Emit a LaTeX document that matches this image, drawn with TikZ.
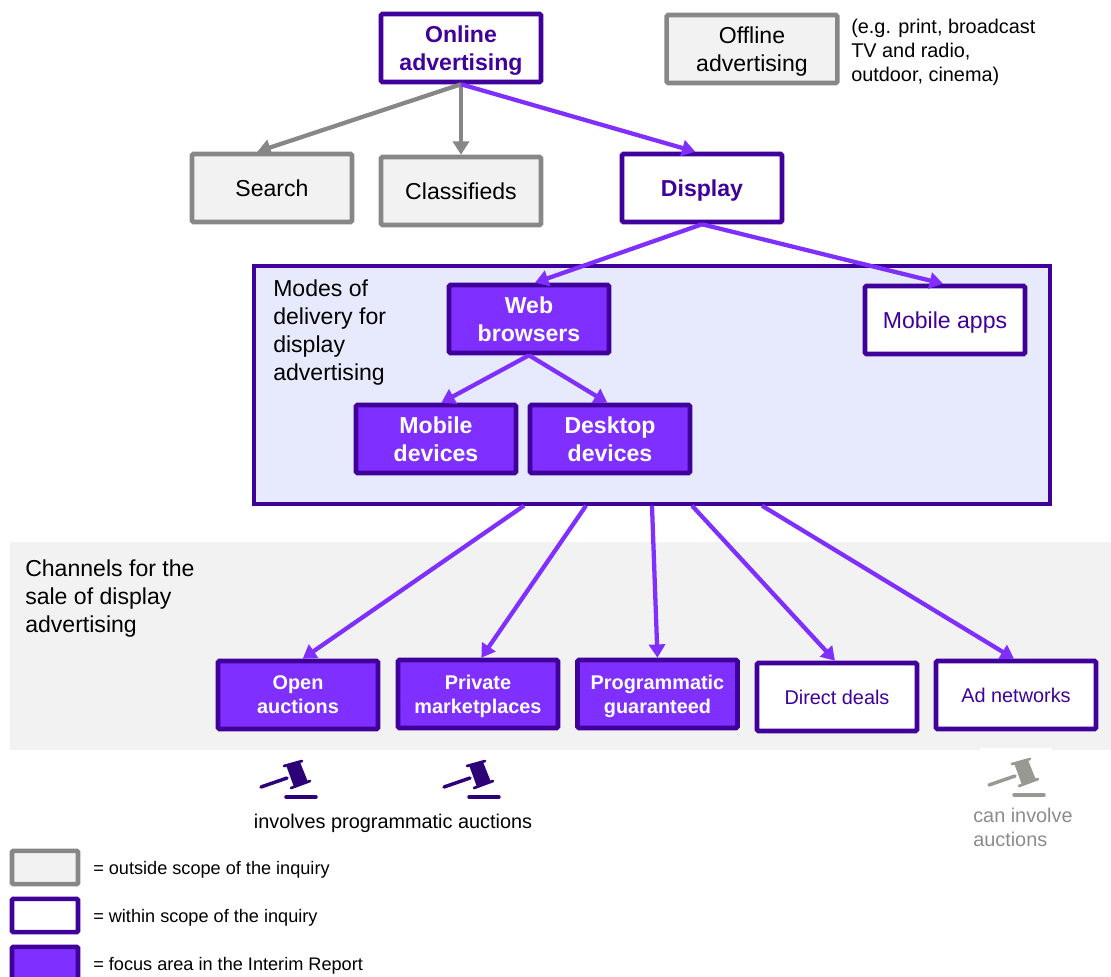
\documentclass[tikz,border=0pt]{standalone}
\usepackage{fontspec}
\setmainfont{Liberation Sans}
\usetikzlibrary{arrows.meta}
\definecolor{darkpurple}{HTML}{40009A}
\definecolor{brightpurple}{HTML}{7F2FFF}
\definecolor{gavelpurple}{HTML}{2E0078}
\definecolor{scopegrey}{HTML}{878787}
\definecolor{bandgrey}{HTML}{F2F2F2}
\definecolor{panelblue}{HTML}{E6EAFC}
\definecolor{gavelgrey}{HTML}{999994}
\definecolor{notegrey}{HTML}{8C8C8C}
\newcommand{\bigtext}{\fontsize{17.3}{21}\selectfont}
\newcommand{\midtext}{\fontsize{14.9}{18}\selectfont}
\newcommand{\smalltext}{\fontsize{13.6}{16}\selectfont}
\tikzset{
  box/.style={draw,line width=3.4pt,rounded corners=1pt,minimum width=120pt,minimum height=51pt,align=center,inner sep=0pt,text depth=0pt},
  outbox/.style={box,draw=scopegrey,fill=bandgrey,text=black,font=\bigtext},
  scopebox/.style={box,draw=darkpurple,fill=white,text=darkpurple,font=\bigtext},
  focusbox/.style={box,draw=darkpurple,fill=brightpurple,text=white,font=\bigtext\bfseries},
  keybox/.style={draw,line width=3.4pt,rounded corners=1pt,minimum width=49.5pt,minimum height=25pt,inner sep=0pt},
  keytext/.style={anchor=west,font=\smalltext,inner sep=0pt},
  note/.style={anchor=west,align=left,inner sep=0pt},
  purplearrow/.style={draw=brightpurple,line width=3.2pt,-{Triangle[length=10pt,width=12pt]}},
  greyarrow/.style={draw=scopegrey,line width=3.2pt,-{Triangle[length=10pt,width=12pt]}},
  pics/gavel/.style={code={
    \draw[#1,line width=2.6pt,line cap=round] (-29,10) -- (-3,1);
    \fill[#1] (-4,-12) -- (10,-15) -- (18,5) -- (4,10) -- cycle;
    \draw[#1,line width=2pt,line cap=round] (-6,-11) -- (12,-16);
    \draw[#1,line width=2pt,line cap=round] (1,11) -- (20,4);
    \draw[#1,line width=2.6pt,line cap=round] (-4,20) -- (26,20);
  }}
}

\begin{document}
\begin{tikzpicture}[x=0.75pt,y=-0.75pt]
\useasboundingbox (0,0) rectangle (1111,976);
\clip (0,0) rectangle (1111,976);

% background areas:
\fill[bandgrey] (10,542) rectangle (1111,750);
\fill[white] (980,748) rectangle (1052,750);
\node[draw=darkpurple,fill=panelblue,line width=3pt,minimum width=597pt,minimum height=178pt,inner sep=0pt] (modes) at (652,385) {};

% boxes:
\node[scopebox,font=\bigtext\bfseries] (online) at (461,48) {Online\\advertising};
\node[outbox,minimum width=128pt] (offline) at (752,49) {Offline\\advertising};
\node[outbox] (search) at (272,188) {Search};
\node[outbox] (classifieds) at (461,191) {Classifieds};
\node[scopebox,font=\bigtext\bfseries] (display) at (702,188) {Display};
\node[focusbox] (web) at (529,319) {Web\\browsers};
\node[scopebox] (apps) at (945,320) {Mobile apps};
\node[focusbox] (mobile) at (436,439) {Mobile\\devices};
\node[focusbox] (desktop) at (610,439) {Desktop\\devices};
\node[focusbox,font=\midtext\bfseries] (open) at (298,695) {Open\\auctions};
\node[focusbox,font=\midtext\bfseries] (private) at (478,694) {Private\\marketplaces};
\node[focusbox,font=\midtext\bfseries] (programmatic) at (657.5,694) {Programmatic\\guaranteed};
\node[scopebox,font=\midtext] (direct) at (837,697) {Direct deals};
\node[scopebox,font=\midtext] (networks) at (1016,695) {Ad networks};

% connectors:
\draw[greyarrow] (online.south) -- ([xshift=-11pt]search.north);
\draw[greyarrow] (online.south) -- (classifieds.north);
\draw[purplearrow] (online.south) -- ([xshift=-5pt]display.north);
\draw[purplearrow] (display.south) -- ([xshift=4.5pt]web.north);
\draw[purplearrow] (display.south) -- ([xshift=-1.5pt]apps.north);
\draw[purplearrow] (web.south) -- ([xshift=4pt]mobile.north);
\draw[purplearrow] (web.south) -- ([xshift=-2pt]desktop.north);
\draw[purplearrow] ([xshift=-96pt]modes.south) -- ([xshift=3.5pt]open.north);
\draw[purplearrow] ([xshift=-49.5pt]modes.south) -- ([xshift=2.5pt]private.north);
\draw[purplearrow] (modes.south) -- (programmatic.north);
\draw[purplearrow] ([xshift=30pt]modes.south) -- ([xshift=-1.5pt]direct.north);
\draw[purplearrow] ([xshift=82.5pt]modes.south) -- ([xshift=-1.5pt]networks.north);

% texts:
\node[note,font=\midtext] (offlinenote) at (851,52) {(e.g. print, broadcast\\TV and radio,\\outdoor, cinema)};
\node[note,font=\bigtext] (modestext) at (273,333) {Modes of\\delivery for\\display\\advertising};
\node[note,font=\bigtext] (channelstext) at (25,599) {Channels for the\\sale of display\\advertising};
\node[font=\midtext,inner sep=0pt] (involves) at (393,823) {involves programmatic auctions};
\node[note,font=\midtext,text=notegrey] (caninvolve) at (973,827) {can involve\\auctions};

% gavels:
\pic at (290,777) {gavel=gavelpurple};
\pic at (473,777) {gavel=gavelpurple};
\pic at (1018,775) {gavel=gavelgrey};

% key:
\node[keybox,draw=scopegrey,fill=bandgrey] (keyout) at (45,867.5) {};
\node[keybox,draw=darkpurple,fill=white] (keyscope) at (45,915.5) {};
\node[keybox,draw=darkpurple,fill=brightpurple] (keyfocus) at (45,963.5) {};
\node[keytext] (keyouttext) at (93,870) {= outside scope of the inquiry};
\node[keytext] (keyscopetext) at (93,918) {= within scope of the inquiry};
\node[keytext] (keyfocustext) at (93,966) {= focus area in the Interim Report};

\end{tikzpicture}
\end{document}
